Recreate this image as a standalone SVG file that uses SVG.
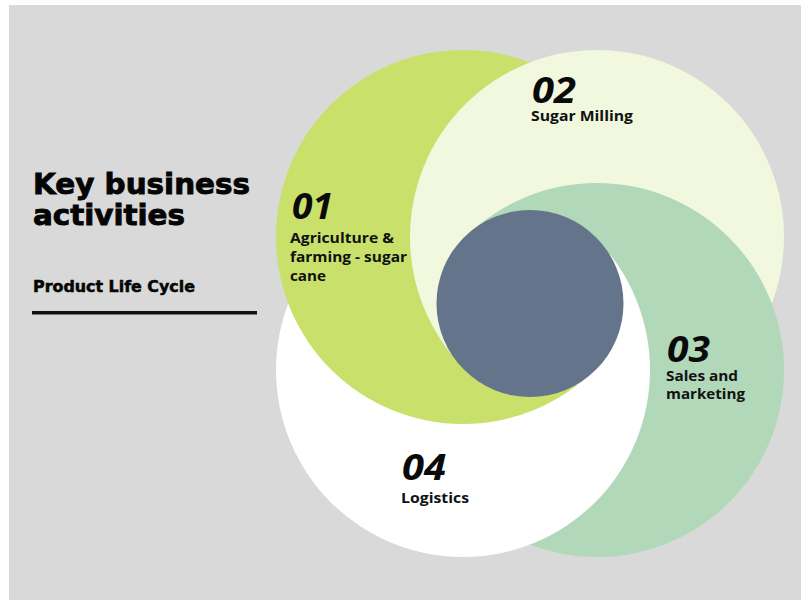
<svg xmlns="http://www.w3.org/2000/svg" xmlns:xlink="http://www.w3.org/1999/xlink" width="801" height="600" viewBox="0 0 801 600">
<style>
.title{font-family:"DejaVu Sans","Liberation Sans",sans-serif;font-weight:700;fill:#050505;stroke:#050505}
.num{font-family:"Open Sans","Noto Sans",sans-serif;font-weight:700;font-style:italic;font-size:35px;fill:#0a0a0a}
.lbl{font-family:"Open Sans","Noto Sans",sans-serif;font-weight:700;font-size:15px;fill:#111111}
</style>
<defs>
<circle id="c01" cx="463" cy="237" r="187" fill="#c9e06b"/>
<circle id="c02" cx="597" cy="237" r="187" fill="#f1f8de"/>
<circle id="c03" cx="597" cy="370" r="187" fill="#b1d8b8"/>
<circle id="c04" cx="463" cy="370" r="187" fill="#ffffff"/>
<mask id="secR" maskUnits="userSpaceOnUse" x="0" y="0" width="801" height="600"><polygon fill="#ffffff" points="525,303.5 1525,-696.5 1525,1303.5"/></mask>
<mask id="secB" maskUnits="userSpaceOnUse" x="0" y="0" width="801" height="600"><polygon fill="#ffffff" points="530,298.5 1530,1298.5 -470,1298.5"/></mask>
<mask id="secL" maskUnits="userSpaceOnUse" x="0" y="0" width="801" height="600"><polygon fill="#ffffff" points="535,303.5 -465,1303.5 -465,-696.5"/></mask>
<mask id="secT" maskUnits="userSpaceOnUse" x="0" y="0" width="801" height="600"><polygon fill="#ffffff" points="530,308.5 -470,-691.5 1530,-691.5"/></mask>
</defs>
<rect x="0" y="0" width="801" height="600" fill="#ffffff"/>
<rect x="9" y="5" width="792" height="595" fill="#d9d9d9"/>
<g id="rings">
<g mask="url(#secR)"><use xlink:href="#c01"/><use xlink:href="#c02"/><use xlink:href="#c03"/><use xlink:href="#c04"/></g>
<g mask="url(#secB)"><use xlink:href="#c02"/><use xlink:href="#c03"/><use xlink:href="#c04"/><use xlink:href="#c01"/></g>
<g mask="url(#secL)"><use xlink:href="#c03"/><use xlink:href="#c04"/><use xlink:href="#c01"/><use xlink:href="#c02"/></g>
<g mask="url(#secT)"><use xlink:href="#c04"/><use xlink:href="#c01"/><use xlink:href="#c02"/><use xlink:href="#c03"/></g>
<circle id="hub" cx="530" cy="303.5" r="93.5" fill="#64748b"/>
</g>
<g id="connectors"/>
<g id="heading">
<text class="title" x="33" y="194" font-size="29" stroke-width="0.9" textLength="217" lengthAdjust="spacingAndGlyphs">Key business</text>
<text class="title" x="33" y="225" font-size="29" stroke-width="0.9" textLength="152" lengthAdjust="spacingAndGlyphs">activities</text>
<text class="title" x="33" y="292" font-size="15" stroke-width="0.5" textLength="162" lengthAdjust="spacingAndGlyphs">Product Life Cycle</text>
<rect x="32" y="311" width="225" height="3.5" fill="#111111"/>
</g>
<g id="node-01">
<text class="num" x="292" y="219" textLength="41" lengthAdjust="spacingAndGlyphs">01</text>
<text class="lbl" x="290" y="243" textLength="104" lengthAdjust="spacingAndGlyphs">Agriculture &amp;</text>
<text class="lbl" x="290" y="262" textLength="117" lengthAdjust="spacingAndGlyphs">farming - sugar</text>
<text class="lbl" x="290" y="281" textLength="36" lengthAdjust="spacingAndGlyphs">cane</text>
</g>
<g id="node-02">
<text class="num" x="532" y="103" textLength="44" lengthAdjust="spacingAndGlyphs">02</text>
<text class="lbl" x="531" y="121" textLength="102" lengthAdjust="spacingAndGlyphs">Sugar Milling</text>
</g>
<g id="node-03">
<text class="num" x="667" y="362" textLength="43" lengthAdjust="spacingAndGlyphs">03</text>
<text class="lbl" x="666" y="381" textLength="72" lengthAdjust="spacingAndGlyphs">Sales and</text>
<text class="lbl" x="666" y="399" textLength="79" lengthAdjust="spacingAndGlyphs">marketing</text>
</g>
<g id="node-04">
<text class="num" x="402" y="480" textLength="44" lengthAdjust="spacingAndGlyphs">04</text>
<text class="lbl" x="401" y="503" textLength="68" lengthAdjust="spacingAndGlyphs">Logistics</text>
</g>
</svg>
